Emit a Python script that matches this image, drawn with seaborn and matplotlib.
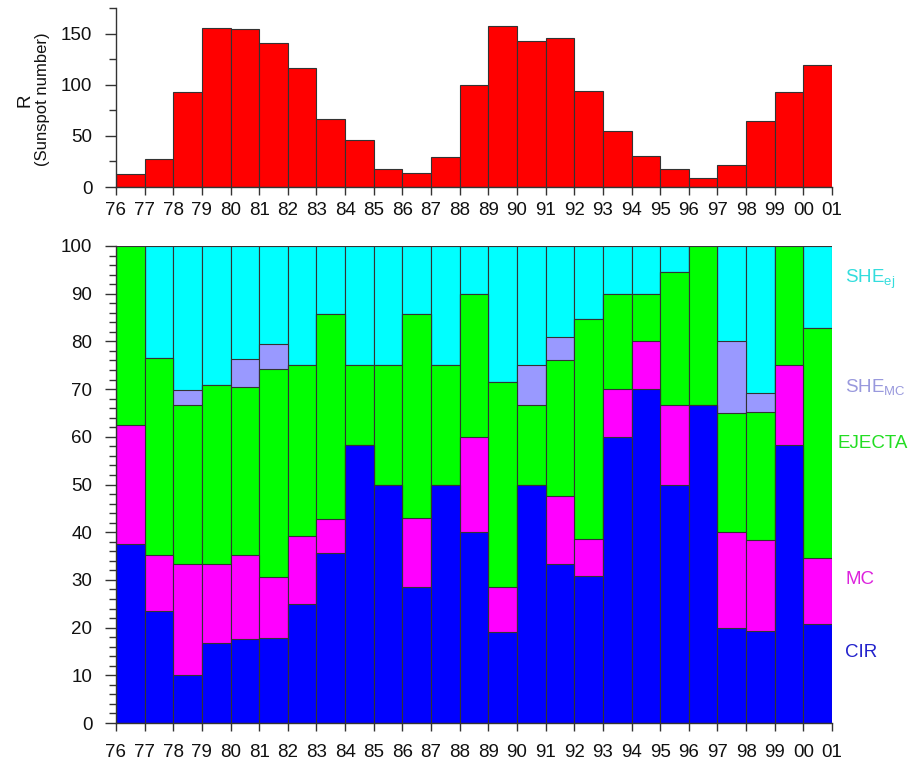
import numpy as np
import pandas as pd
import seaborn as sns
import matplotlib.pyplot as plt
from matplotlib.ticker import MultipleLocator

# Data
years = [str(y) for y in range(1976, 2001)]
tick_labels = ["76", "77", "78", "79", "80", "81", "82", "83", "84", "85", "86", "87", "88",
               "89", "90", "91", "92", "93", "94", "95", "96", "97", "98", "99", "00", "01"]

sunspot = [12.6, 27.5, 92.5, 155.4, 154.6, 140.4, 115.9, 66.6, 45.9, 17.9, 13.4, 29.4, 100.2,
           157.6, 142.6, 145.7, 94.3, 54.6, 29.9, 17.5, 8.6, 21.5, 64.3, 93.3, 119.6]

# percentage of each storm driver per year
cir = [37.5, 23.5, 10.0, 16.7, 17.6, 17.9, 25.0, 35.7, 58.3, 50.0, 28.6, 50.0, 40.0,
       19.0, 50.0, 33.3, 30.8, 60.0, 70.0, 50.0, 66.7, 20.0, 19.2, 58.3, 20.7]
mc = [25.0, 11.8, 23.3, 16.7, 17.6, 12.8, 14.3, 7.1, 0.0, 0.0, 14.3, 0.0, 20.0,
      9.5, 0.0, 14.3, 7.7, 10.0, 10.0, 16.7, 0.0, 20.0, 19.2, 16.7, 13.8]
ejecta = [37.5, 41.2, 33.3, 37.5, 35.3, 43.6, 35.7, 42.9, 16.7, 25.0, 42.9, 25.0, 30.0,
          42.9, 16.7, 28.6, 46.2, 20.0, 10.0, 27.8, 33.3, 25.0, 26.9, 25.0, 48.3]
she_mc = [0.0, 0.0, 3.3, 0.0, 5.9, 5.1, 0.0, 0.0, 0.0, 0.0, 0.0, 0.0, 0.0,
          0.0, 8.3, 4.8, 0.0, 0.0, 0.0, 0.0, 0.0, 15.0, 3.8, 0.0, 0.0]
she_ej = [0.0, 23.5, 30.0, 29.2, 23.5, 20.5, 25.0, 14.3, 25.0, 25.0, 14.3, 25.0, 10.0,
          28.6, 25.0, 19.0, 15.4, 10.0, 10.0, 5.6, 0.0, 20.0, 30.8, 0.0, 17.2]

names = ["CIR", "MC", "EJECTA", "SHE_MC", "SHE_ej"]
bar_colors = ["#0000FF", "#FF00FF", "#00FF00", "#9999FF", "#00FFFF"]
label_colors = ["#2222CC", "#DD22DD", "#22DD22", "#9999DD", "#33DDDD"]
label_texts = ["CIR", "MC", "EJECTA", r"SHE$_{\mathrm{MC}}$", r"SHE$_{\mathrm{ej}}$"]
label_y = [14.7, 30, 58.5, 70.5, 93]
label_x = [24.95, 24.98, 24.7, 24.95, 24.95]

df = pd.DataFrame({"year": years, "CIR": cir, "MC": mc, "EJECTA": ejecta,
                   "SHE_MC": she_mc, "SHE_ej": she_ej})
cum = df[names].cumsum(axis=1)
cum["year"] = df["year"]

sns.set_theme(style="ticks")
plt.rcParams["font.family"] = ["Liberation Sans", "DejaVu Sans"]
plt.rcParams["mathtext.fontset"] = "custom"
plt.rcParams["mathtext.rm"] = "Liberation Sans"
plt.rcParams["mathtext.it"] = "Liberation Sans:italic"

edge = "#333333"
fig = plt.figure(figsize=(9.14, 7.68), dpi=100)
ax1 = fig.add_axes([116 / 914, 1 - 187 / 768, 716 / 914, 179 / 768])
ax2 = fig.add_axes([116 / 914, 1 - 723 / 768, 716 / 914, 477 / 768])

# Top panel: sunspot number
sns.barplot(x=years, y=sunspot, color="#FF0000", saturation=1, width=1,
            edgecolor=edge, linewidth=0.8, ax=ax1)
ax1.set_ylim(0, 175)
ax1.yaxis.set_major_locator(MultipleLocator(50))
ax1.yaxis.set_minor_locator(MultipleLocator(25))

# Bottom panel: stacked percentages, drawn from the tallest cumulative layer down
for name, col in reversed(list(zip(names, bar_colors))):
    sns.barplot(data=cum, x="year", y=name, color=col, saturation=1, width=1,
                edgecolor=edge, linewidth=0.8, ax=ax2)
ax2.set_ylim(0, 100)
ax2.yaxis.set_major_locator(MultipleLocator(10))
ax2.yaxis.set_minor_locator(MultipleLocator(2))

for txt, col, xx, yy in zip(label_texts, label_colors, label_x, label_y):
    ax2.text(xx, yy, txt, color=col, fontsize=13.5, ha="left", va="center")

for ax, xpad in [(ax1, 5), (ax2, 9)]:
    ax.set_xlim(-0.5, 24.5)
    ax.set_xticks(np.arange(26) - 0.5)
    ax.set_xticklabels(tick_labels)
    ax.set_xlabel("")
    ax.set_ylabel("")
    sns.despine(ax=ax)
    for s in ["left", "bottom"]:
        ax.spines[s].set_color(edge)
        ax.spines[s].set_linewidth(1)
    ax.tick_params(axis="x", length=6, width=1, color=edge, pad=xpad,
                   labelsize=13.5, labelcolor="#111111")
    ax.tick_params(axis="y", which="major", length=8, width=1, color=edge, pad=9,
                   labelsize=13.5, labelcolor="#111111")
    ax.tick_params(axis="y", which="minor", length=5, width=1, color=edge)

fig.text(25 / 914, 1 - 100 / 768, "R", rotation=90, fontsize=13.5,
         ha="center", va="center", color="#111111")
fig.text(43 / 914, 1 - 99 / 768, "(Sunspot number)", rotation=90, fontsize=12,
         ha="center", va="center", color="#111111")

fig.savefig("out.png", dpi=100)
